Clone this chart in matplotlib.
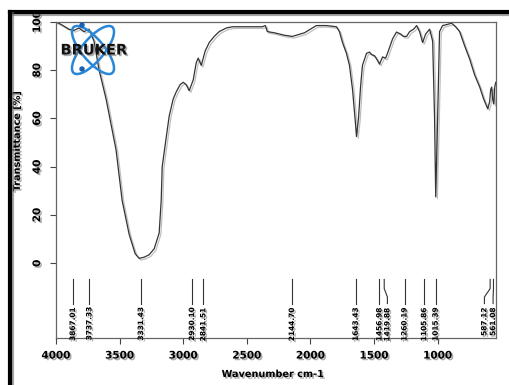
import matplotlib.pyplot as plt
import matplotlib.patheffects as pe
from matplotlib.patches import Ellipse, Circle
from matplotlib.lines import Line2D

# IR spectrum (transmittance vs wavenumber)
wavenumber = [4000, 3961, 3898, 3858, 3819, 3780, 3740, 3701, 3661, 3606, 3528, 3480,
              3425, 3378, 3346, 3307, 3268, 3228, 3189, 3173, 3165, 3134, 3110, 3079,
              3055, 3024, 3000, 2976, 2953, 2921, 2898, 2882, 2858, 2827, 2795, 2756,
              2717, 2661, 2614, 2480, 2378, 2354, 2339, 2283, 2205, 2142, 2047, 1953,
              1874, 1795, 1772, 1748, 1717, 1693, 1669, 1646, 1638, 1622, 1606, 1591,
              1559, 1535, 1520, 1496, 1472, 1457, 1433, 1409, 1394, 1354, 1323, 1291,
              1268, 1244, 1220, 1189, 1165, 1142, 1118, 1094, 1063, 1039, 1024, 1015,
              1000, 985, 961, 921, 890, 858, 827, 787, 748, 709, 669, 638, 606, 591,
              583, 575, 567, 559, 551, 543]
transmittance = [100, 99, 97, 96.5, 97.5, 96, 97, 92, 80, 68, 47, 26,
                 12, 4, 2, 2.5, 3.5, 6, 12.5, 26, 40, 52, 61, 68,
                 71, 74, 75, 74, 71.5, 76, 83, 85, 82, 88, 91.5, 94,
                 96, 97.5, 98, 98, 98, 98.5, 96, 95.5, 94.5, 94, 95.5, 98.5,
                 98.5, 98, 96, 91.5, 87, 82, 72, 58, 52.5, 60, 73, 82,
                 87, 87.5, 86.5, 86, 84, 82.5, 85.5, 85, 87, 93, 95.8, 95,
                 94, 94, 96, 97, 98.5, 96, 91.5, 95, 97, 92, 60, 27.5,
                 60, 96, 98.5, 99, 99.5, 98, 96, 90, 84.6, 78, 73, 68, 64, 67,
                 72, 73, 68, 66, 73, 75]

# picked peaks
peaks = [3867.01, 3737.33, 3331.43, 2930.10, 2841.51, 2144.70, 1643.43,
         1456.98, 1419.88, 1260.19, 1105.86, 1015.39, 587.12, 561.08]
peak_labels = ["3867.01", "3737.33", "3331.43", "2930.10", "2841.51", "2144.70",
               "1643.43", "1456.98", "1419.88", "1260.19", "1105.86", "1015.39",
               "587.12", "561.08"]

# labels that would overlap get nudged sideways
label_shift = {8: -25, 12: 45, 13: 3}

font = ['Liberation Sans Narrow', 'DejaVu Sans']
shadow = [pe.withSimplePatchShadow(offset=(1.2, -1.2), shadow_rgbFace='0.45', alpha=0.6)]

fig = plt.figure(figsize=(5.09, 3.85), dpi=100)
ax = fig.add_axes([0.110, 0.122, 0.864, 0.821])

ax.plot(wavenumber, transmittance, color='#333333', lw=0.9,
        path_effects=[pe.SimpleLineShadow(offset=(1.2, -1.2), shadow_color='0.5', alpha=0.5),
                      pe.Normal()])

for i, (wn, lab) in enumerate(zip(peaks, peak_labels)):
    lx = wn + label_shift.get(i, 0)
    if lx == wn:
        ax.plot([wn, wn], [-6.7, -16.7], color='#333333', lw=0.8)
    else:
        ax.plot([wn, wn, lx, lx], [-6.7, -10.5, -14, -16.7], color='#333333', lw=0.8)
    ax.text(lx, -18.2, lab, rotation=90, ha='center', va='top', fontsize=5.3,
            fontweight='bold', family=font, path_effects=shadow)

ax.set_xlim(4000, 543)
ax.set_ylim(-31, 100)
ax.set_xticks([4000, 3500, 3000, 2500, 2000, 1500, 1000])
ax.set_yticks([0, 20, 40, 60, 80, 100])
for s in ax.spines.values():
    s.set_color('#666666')
    s.set_linewidth(0.9)
ax.tick_params(axis='both', colors='#444444', length=4, width=0.8)
ax.tick_params(axis='x', pad=5)
ax.tick_params(axis='y', pad=6)
for t in ax.get_xticklabels():
    t.set_fontsize(7.5)
    t.set_fontweight('bold')
    t.set_family(font)
    t.set_color('black')
    t.set_path_effects(shadow)
for t in ax.get_yticklabels():
    t.set_fontsize(7.5)
    t.set_fontweight('bold')
    t.set_family(font)
    t.set_color('black')
    t.set_rotation(90)
    t.set_va('center')
    t.set_path_effects(shadow)

ax.set_xlabel("Wavenumber cm-1", fontsize=7, fontweight='bold', family=font,
              path_effects=shadow)
ax.xaxis.set_label_coords(0.493, -0.098)
ax.set_ylabel("Transmittance [%]", fontsize=7, fontweight='bold', family=font,
              path_effects=shadow)
ax.yaxis.set_label_coords(-0.077, 0.623)

# logo
lg = fig.add_axes([56 / 509, 1 - 78 / 385, 78 / 509, 56 / 385])
lg.set_xlim(0, 78)
lg.set_ylim(0, 56)
lg.set_aspect('equal')
lg.axis('off')
blue = '#2a86d6'
for ang in (50, -50):
    lg.add_patch(Ellipse((37, 28), 60, 22, angle=ang, fill=False, ec=blue, lw=1.8))
lg.add_patch(Circle((26, 53), 2, color='#1a5fb0'))
lg.add_patch(Circle((26, 9), 2, color='#1a5fb0'))
lg.text(38, 28, "BRUKER", ha='center', va='center', fontsize=10.5, fontweight='bold',
        family='DejaVu Sans', color='#111111', path_effects=shadow)

# outer frame (top and left edges)
for xs, ys in (([10, 509], [373, 373]), ([10, 10], [0, 373])):
    fig.add_artist(Line2D([x / 509 for x in xs], [y / 385 for y in ys],
                          color='black', lw=3,
                          path_effects=[pe.SimpleLineShadow(offset=(1.5, -1.5), shadow_color='0.4', alpha=0.6),
                                        pe.Normal()]))

fig.savefig("out.png", dpi=100)
